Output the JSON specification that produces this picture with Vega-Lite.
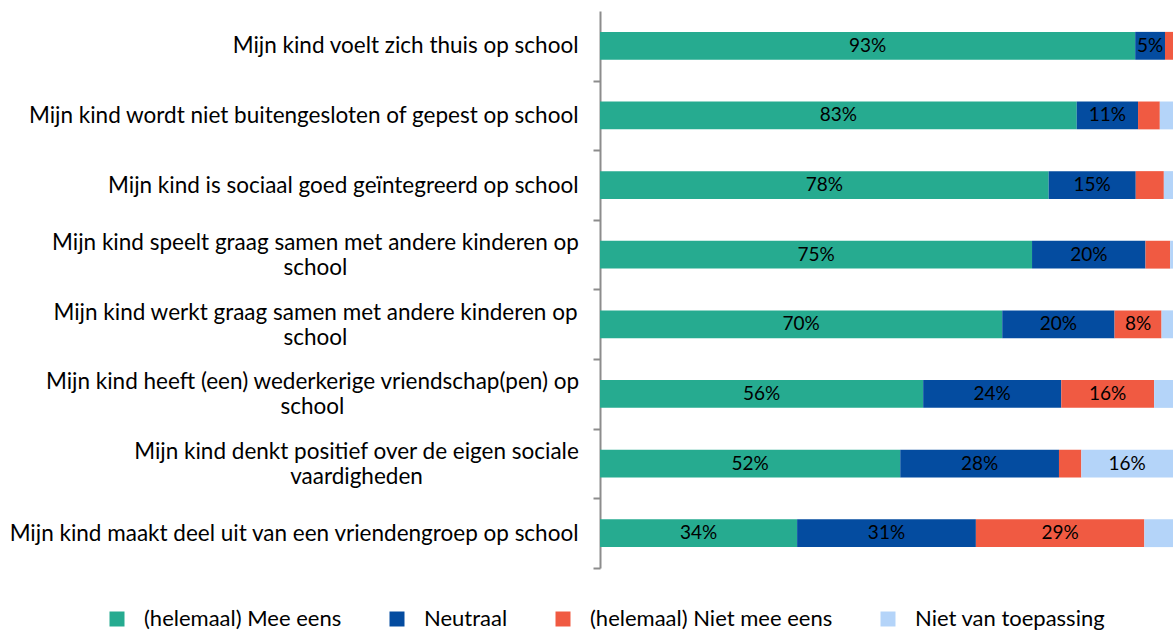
{
  "$schema": "https://vega.github.io/schema/vega-lite/v6.json",
  "width": 573,
  "height": 557,
  "autosize": {"type": "none"},
  "padding": {"left": 600, "top": 11, "right": 0, "bottom": 62},
  "background": "white",
  "config": {"view": {"stroke": null}},
  "data": {"values": [
    {"q": "Mijn kind voelt zich thuis op school", "cat": "(helemaal) Mee eens", "rank": 1, "v": 0.934},
    {"q": "Mijn kind voelt zich thuis op school", "cat": "Neutraal", "rank": 2, "v": 0.052},
    {"q": "Mijn kind voelt zich thuis op school", "cat": "(helemaal) Niet mee eens", "rank": 3, "v": 0.014},
    {"q": "Mijn kind voelt zich thuis op school", "cat": "Niet van toepassing", "rank": 4, "v": 0.0},
    {"q": "Mijn kind wordt niet buitengesloten of gepest op school", "cat": "(helemaal) Mee eens", "rank": 1, "v": 0.832},
    {"q": "Mijn kind wordt niet buitengesloten of gepest op school", "cat": "Neutraal", "rank": 2, "v": 0.107},
    {"q": "Mijn kind wordt niet buitengesloten of gepest op school", "cat": "(helemaal) Niet mee eens", "rank": 3, "v": 0.038},
    {"q": "Mijn kind wordt niet buitengesloten of gepest op school", "cat": "Niet van toepassing", "rank": 4, "v": 0.023},
    {"q": "Mijn kind is sociaal goed geïntegreerd op school", "cat": "(helemaal) Mee eens", "rank": 1, "v": 0.783},
    {"q": "Mijn kind is sociaal goed geïntegreerd op school", "cat": "Neutraal", "rank": 2, "v": 0.152},
    {"q": "Mijn kind is sociaal goed geïntegreerd op school", "cat": "(helemaal) Niet mee eens", "rank": 3, "v": 0.049},
    {"q": "Mijn kind is sociaal goed geïntegreerd op school", "cat": "Niet van toepassing", "rank": 4, "v": 0.016},
    {"q": "Mijn kind speelt graag samen met andere kinderen op|school", "cat": "(helemaal) Mee eens", "rank": 1, "v": 0.754},
    {"q": "Mijn kind speelt graag samen met andere kinderen op|school", "cat": "Neutraal", "rank": 2, "v": 0.198},
    {"q": "Mijn kind speelt graag samen met andere kinderen op|school", "cat": "(helemaal) Niet mee eens", "rank": 3, "v": 0.043},
    {"q": "Mijn kind speelt graag samen met andere kinderen op|school", "cat": "Niet van toepassing", "rank": 4, "v": 0.005},
    {"q": "Mijn kind werkt graag samen met andere kinderen op|school", "cat": "(helemaal) Mee eens", "rank": 1, "v": 0.702},
    {"q": "Mijn kind werkt graag samen met andere kinderen op|school", "cat": "Neutraal", "rank": 2, "v": 0.196},
    {"q": "Mijn kind werkt graag samen met andere kinderen op|school", "cat": "(helemaal) Niet mee eens", "rank": 3, "v": 0.082},
    {"q": "Mijn kind werkt graag samen met andere kinderen op|school", "cat": "Niet van toepassing", "rank": 4, "v": 0.020},
    {"q": "Mijn kind heeft (een) wederkerige vriendschap(pen) op|school", "cat": "(helemaal) Mee eens", "rank": 1, "v": 0.564},
    {"q": "Mijn kind heeft (een) wederkerige vriendschap(pen) op|school", "cat": "Neutraal", "rank": 2, "v": 0.241},
    {"q": "Mijn kind heeft (een) wederkerige vriendschap(pen) op|school", "cat": "(helemaal) Niet mee eens", "rank": 3, "v": 0.162},
    {"q": "Mijn kind heeft (een) wederkerige vriendschap(pen) op|school", "cat": "Niet van toepassing", "rank": 4, "v": 0.033},
    {"q": "Mijn kind denkt positief over de eigen sociale|vaardigheden", "cat": "(helemaal) Mee eens", "rank": 1, "v": 0.524},
    {"q": "Mijn kind denkt positief over de eigen sociale|vaardigheden", "cat": "Neutraal", "rank": 2, "v": 0.277},
    {"q": "Mijn kind denkt positief over de eigen sociale|vaardigheden", "cat": "(helemaal) Niet mee eens", "rank": 3, "v": 0.039},
    {"q": "Mijn kind denkt positief over de eigen sociale|vaardigheden", "cat": "Niet van toepassing", "rank": 4, "v": 0.160},
    {"q": "Mijn kind maakt deel uit van een vriendengroep op school", "cat": "(helemaal) Mee eens", "rank": 1, "v": 0.344},
    {"q": "Mijn kind maakt deel uit van een vriendengroep op school", "cat": "Neutraal", "rank": 2, "v": 0.312},
    {"q": "Mijn kind maakt deel uit van een vriendengroep op school", "cat": "(helemaal) Niet mee eens", "rank": 3, "v": 0.294},
    {"q": "Mijn kind maakt deel uit van een vriendengroep op school", "cat": "Niet van toepassing", "rank": 4, "v": 0.050}
  ]},
  "transform": [
    {"stack": "v", "groupby": ["q"], "sort": [{"field": "rank", "order": "ascending"}], "as": ["v0", "v1"]}
  ],
  "encoding": {
    "y": {
      "field": "q", "type": "nominal", "sort": null, "title": null,
      "scale": {"paddingInner": 0.6, "paddingOuter": 0.3},
      "axis": {
        "labelExpr": "split(datum.label, '|')",
        "labelFont": "Lato", "labelFontSize": 22.5, "labelColor": "#000000",
        "labelLineHeight": 25, "labelLimit": 700,
        "labelAlign": {"condition": {"test": "isString(datum.value) && indexof(datum.value, '|') >= 0", "value": "center"}, "value": "right"},
        "labelOffset": {"condition": {"test": "isString(datum.value) && indexof(datum.value, '|') >= 0", "value": -47}, "value": -34.8},
        "labelPadding": {"condition": [
          {"test": "isString(datum.value) && indexof(datum.value, 'denkt') >= 0", "value": 237},
          {"test": "isString(datum.value) && indexof(datum.value, 'heeft') >= 0", "value": 281},
          {"test": "isString(datum.value) && indexof(datum.value, '|') >= 0", "value": 278}
        ], "value": 15},
        "domainColor": "#8c8c8c", "domainWidth": 2,
        "tickColor": "#8c8c8c", "tickWidth": 2, "tickSize": 7,
        "tickOffset": 34.8
      }
    }
  },
  "layer": [
    {
      "mark": {"type": "bar"},
      "encoding": {
        "x": {"field": "v0", "type": "quantitative", "scale": {"domain": [0, 1], "nice": false}, "axis": null},
        "x2": {"field": "v1"},
        "color": {
          "field": "cat", "type": "nominal", "title": null,
          "scale": {
            "domain": ["(helemaal) Mee eens", "Neutraal", "(helemaal) Niet mee eens", "Niet van toepassing"],
            "range": ["#26ab90", "#044ca0", "#f05a42", "#b4d4f9"]
          },
          "legend": {
            "orient": "none", "legendX": -494, "legendY": 597,
            "direction": "horizontal", "symbolType": "square", "symbolSize": 225,
            "symbolStrokeWidth": 0, "labelFont": "Lato", "labelFontSize": 22,
            "labelColor": "#000000", "labelOffset": 16, "columnPadding": 44, "labelLimit": 400
          }
        }
      }
    },
    {
      "transform": [
        {"filter": "datum.v > 0.05"},
        {"calculate": "(datum.v0 + datum.v1) / 2", "as": "mid"}
      ],
      "mark": {"type": "text", "font": "Lato", "fontSize": 19, "color": "#000000", "baseline": "middle", "align": "center"},
      "encoding": {
        "x": {"field": "mid", "type": "quantitative"},
        "text": {"field": "v", "type": "quantitative", "format": ".0%"}
      }
    }
  ]
}
